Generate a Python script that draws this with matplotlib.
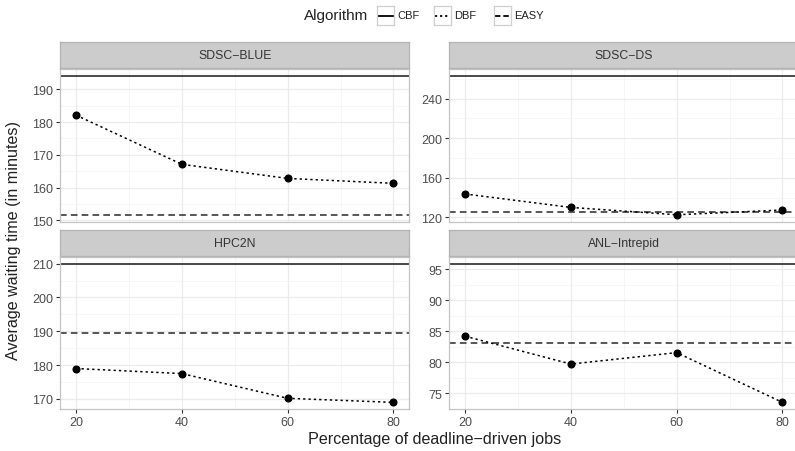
import matplotlib
matplotlib.use("Agg")
import matplotlib.pyplot as plt
import numpy as np

plt.rcParams['font.family'] = ['Liberation Sans', 'DejaVu Sans']

# data
pct = [20, 40, 60, 80]
panels = ["SDSC\u2212BLUE", "SDSC\u2212DS", "HPC2N", "ANL\u2212Intrepid"]
cbf = [194.1, 262.9, 209.9, 95.9]
easy = [151.7, 125.5, 189.4, 83.1]
dbf = [
    [182.1, 167.1, 162.8, 161.3],
    [143.7, 130.1, 122.7, 127.5],
    [179.0, 177.5, 170.2, 169.0],
    [84.2, 79.7, 81.55, 73.5],
]
yticks = [
    [150, 160, 170, 180, 190],
    [120, 160, 200, 240],
    [170, 180, 190, 200, 210],
    [75, 80, 85, 90, 95],
]
xticks = [20, 40, 60, 80]

W, H = 795, 452
fig = plt.figure(figsize=(W / 100, H / 100), dpi=100)

def px(x0, y0, x1, y1):
    # pixel box (top-left origin) -> figure fraction rect
    return [x0 / W, 1 - y1 / H, (x1 - x0) / W, (y1 - y0) / H]

cols = [(60.3, 409.3), (449.3, 798.3)]
rows = [(70, 222.7), (258, 410.3)]
strip_h = 27

grey_txt = '#4D4D4D'
border = '#C4C4C4'

for i, name in enumerate(panels):
    r, c = divmod(i, 2)
    x0, x1 = cols[c]
    y0, y1 = rows[r]
    ax = fig.add_axes(px(x0, y0, x1, y1))

    ax.set_xticks(xticks)
    ax.set_xticks([30, 50, 70], minor=True)
    yt = yticks[i]
    ax.set_yticks(yt)
    step = yt[1] - yt[0]
    ax.set_yticks([t + step / 2 for t in [yt[0] - step] + yt], minor=True)
    ax.grid(True, which='major', color='#EBEBEB', lw=0.9)
    ax.grid(True, which='minor', color='#F3F3F3', lw=0.5)
    ax.set_axisbelow(True)

    ax.axhline(cbf[i], color='#3A3A3A', lw=1.3, ls='-')
    ax.axhline(easy[i], color='#3A3A3A', lw=1.2, ls=(0, (4, 2.5)))
    ax.plot(pct, dbf[i], color='black', lw=1.1, ls=(0, (1.5, 2)),
            marker='o', ms=4.8, mfc='black', mec='black')

    vals = [cbf[i], easy[i]] + dbf[i]
    lo, hi = min(vals), max(vals)
    pad = 0.05 * (hi - lo)
    ax.set_ylim(lo - pad, hi + pad)
    ax.set_xlim(17, 83)

    for s in ax.spines.values():
        s.set_color(border)
        s.set_linewidth(0.9)

    ax.tick_params(axis='both', which='major', length=3, width=0.8,
                   color='#333333', labelsize=9, labelcolor=grey_txt, pad=2)
    ax.tick_params(axis='both', which='minor', length=0)
    if r == 0:
        ax.tick_params(axis='x', labelbottom=False, length=0)

    # facet strip
    sax = fig.add_axes(px(x0, y0 - strip_h, x1, y0 - 1))
    sax.set_facecolor('#CCCCCC')
    sax.set_xticks([])
    sax.set_yticks([])
    for s in sax.spines.values():
        s.set_color('#B3B3B3')
        s.set_linewidth(0.9)
    sax.text(0.5, 0.5, name, ha='center', va='center', fontsize=8.8,
             color='#333333', transform=sax.transAxes)

fig.text(435 / W, 1 - 440 / H, "Percentage of deadline\u2212driven jobs",
         ha='center', va='center', fontsize=11.6, color='#222222')
fig.text(14 / W, 1 - 240 / H, "Average waiting time (in minutes)",
         ha='center', va='center', rotation=90, fontsize=11.6, color='#222222')

# legend on top
legend_labels = ["CBF", "DBF", "EASY"]
legend_styles = ['-', (0, (1.2, 1.6)), (0, (3, 1.6))]
legend_x = [377, 434, 494]
fig.text(336 / W, 1 - 16 / H, "Algorithm", ha='center', va='center',
         fontsize=11, color='#222222')
for lab, ls, kx in zip(legend_labels, legend_styles, legend_x):
    kax = fig.add_axes(px(kx, 7, kx + 17, 26))
    kax.set_xlim(0, 1)
    kax.set_ylim(0, 1)
    kax.plot([0.08, 0.92], [0.5, 0.5], color='black', lw=1.3, ls=ls)
    kax.set_xticks([])
    kax.set_yticks([])
    for s in kax.spines.values():
        s.set_color('#CFCFCF')
        s.set_linewidth(0.9)
    fig.text((kx + 20) / W, 1 - 16 / H, lab, ha='left', va='center',
             fontsize=8, color='#222222')

fig.savefig("out.png", dpi=100)
